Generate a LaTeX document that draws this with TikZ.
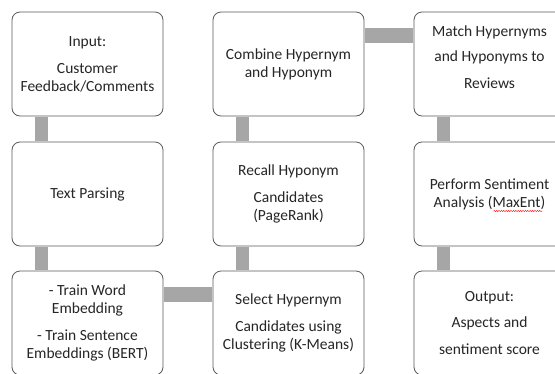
\documentclass[tikz,border=0pt]{standalone}
\usepackage{fontspec}
\setmainfont{Carlito}
\usetikzlibrary{positioning, decorations.pathmorphing}
\definecolor{barColor}{RGB}{166,166,166}
\definecolor{boxColor}{RGB}{89,89,89}
\definecolor{textColor}{RGB}{38,38,38}
\tikzstyle{pipeline} = [x = 1pt, y = -1pt]
\tikzstyle{stepBox} = [draw=boxColor, fill=white, rounded corners = 8pt, line width = .8pt, minimum width = 151pt, minimum height = 104pt, inner sep = 0pt, align = center, text = textColor, font = \fontsize{15.5}{18}\selectfont]
\tikzstyle{verticalBar} = [color=barColor, line width = 13pt, shorten <= .4pt, shorten >= .4pt]
\tikzstyle{horizontalBar} = [color=barColor, line width = 15pt, shorten <= .4pt, shorten >= .4pt]
\tikzstyle{spellLine} = [color=red, line width = .4pt, decorate, decoration={snake, amplitude = .6pt, segment length = 2.4pt}]
\newcommand{\barOffset}{30pt}
\newcommand{\barDrop}{24pt}
\newcommand{\verticalLink}[2]{\draw [verticalBar] ([xshift=\barOffset]#1.south west) -- ([xshift=\barOffset]#2.north west);}
\newcommand{\horizontalLink}[2]{\draw [horizontalBar] ([yshift=-\barDrop]#1.north east) -- ([yshift=-\barDrop]#2.north west);}
\begin{document}
\begin{tikzpicture}[pipeline]
  \useasboundingbox (0,0) rectangle (555,373);
  \clip (0,0) rectangle (555,373);

  % first column
  \node [stepBox] (input) at (87.5,64) {Input:\\[9pt]Customer\\Feedback/Comments};
  \node [stepBox] (parsing) at (87.5,194) {Text Parsing};
  \node [stepBox] (embedding) at (87.5,323) {- Train Word\\Embedding\\[9pt]- Train Sentence\\Embeddings (BERT)};

  % second column
  \node [stepBox] (combine) at (288.5,64) {Combine Hypernym\\and Hyponym};
  \node [stepBox] (hyponym) at (288.5,194) {Recall Hyponym\\[9pt]Candidates\\(PageRank)};
  \node [stepBox] (hypernym) at (288.5,323) {Select Hypernym\\[9pt]Candidates using\\Clustering (K-Means)};

  % third column
  \node [stepBox] (match) at (489.5,64) {Match Hypernyms\\[7pt]and Hyponyms to\\[9pt]Reviews\rule[-14pt]{0pt}{0pt}};
  \node [stepBox] (sentiment) at (489.5,194) {Perform Sentiment\\Analysis (MaxEnt)};
  \node [stepBox] (output) at (489.5,323) {Output:\\[8pt]Aspects and\\[9pt]sentiment score};

  % spell-check squiggle under MaxEnt
  \draw [spellLine] ([xshift=4pt, yshift=-17pt]sentiment.center) -- ([xshift=53pt, yshift=-17pt]sentiment.center);

  \verticalLink{input}{parsing}
  \verticalLink{parsing}{embedding}
  \horizontalLink{embedding}{hypernym}
  \verticalLink{hyponym}{hypernym}
  \verticalLink{combine}{hyponym}
  \horizontalLink{combine}{match}
  \verticalLink{match}{sentiment}
  \verticalLink{sentiment}{output}
\end{tikzpicture}
\end{document}
